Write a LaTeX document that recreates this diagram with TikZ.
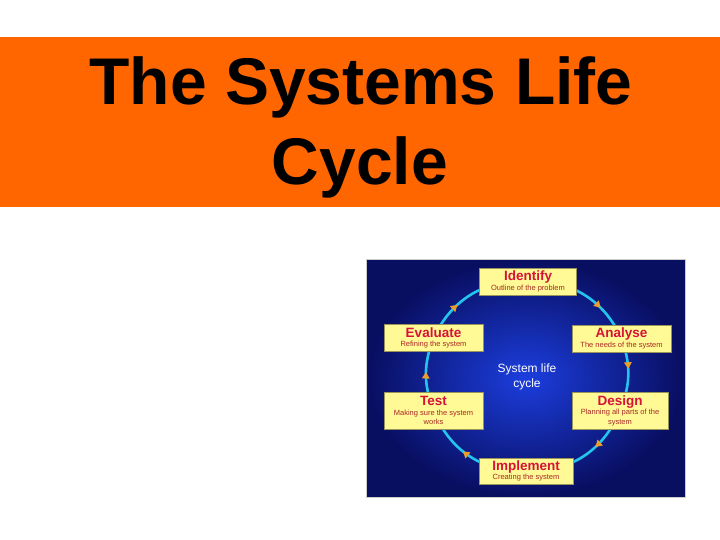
\documentclass[tikz,border=0pt]{standalone}
\usepackage{fontspec}
\setmainfont{Liberation Sans}
\usetikzlibrary{arrows.meta,backgrounds,decorations.markings}
\definecolor{bandorange}{RGB}{255,102,0}
\definecolor{panelblue}{RGB}{28,62,222}
\definecolor{paneldark}{RGB}{8,14,96}
\definecolor{ringcyan}{RGB}{36,196,236}
\definecolor{tipamber}{RGB}{236,156,44}
\definecolor{boxyellow}{RGB}{255,249,150}
\definecolor{headred}{RGB}{214,18,58}
\definecolor{subred}{RGB}{168,40,36}
\tikzset{stage/.style={draw=boxyellow!60!black,fill=boxyellow,minimum width=97pt,
  minimum height=27pt,inner sep=1pt,align=center,text=subred,
  font=\fontsize{7.5}{9.5}\selectfont},
  ring/.style={draw=ringcyan,line width=2.6pt,postaction={decorate}},
  tipat/.style={decoration={markings,mark=at position #1 with
    {\arrow{Triangle[length=6.5pt,width=7.5pt,color=tipamber]}}}},
  headline/.style={anchor=base,inner sep=0pt,font=\fontsize{66}{80}\selectfont\bfseries}}
\newcommand{\stagehead}[1]{{\fontsize{13.5}{15}\selectfont\bfseries\color{headred}#1}}

\begin{document}
\begin{tikzpicture}[x=1pt,y=-1pt]
\useasboundingbox (0,0) rectangle (720,540);
\node[headline] (ttl) at (361,105) {The Systems Life};
\node[headline] (ttl2) at (360,185) {Cycle};
\node[stage] (idf) at (528,281.5) {\stagehead{Identify}\\Outline of the problem};
\node[stage,minimum width=99pt] (evl) at (433.5,338) {\stagehead{Evaluate}\\Refining the system};
\node[stage,minimum width=99pt] (ana) at (621.5,338.5) {\stagehead{Analyse}\\The needs of the system};
\node[stage,minimum width=99pt,minimum height=37pt] (tst) at (433.5,410.5)
  {\stagehead{Test}\\Making sure the system\\works};
\node[stage,minimum width=96pt,minimum height=37pt] (des) at (620,410.5)
  {\stagehead{Design}\\Planning all parts of the\\system};
\node[stage,minimum width=94pt,minimum height=26pt] (imp) at (526,471)
  {\stagehead{Implement}\\Creating the system};
\node[text=white,align=center,font=\fontsize{12}{15}\selectfont] (hub) at (527,377)
  {System life\\cycle};
\begin{scope}[on background layer]
\fill[white] (0,0) rectangle (720,540);
\fill[bandorange] (0,37) rectangle (720,207);
\shade[inner color=panelblue,outer color=paneldark] (366,259) rectangle (685,497);
\draw[gray!40,line width=.8pt] (366,259) rectangle (685,497);
\draw[ring,tipat=.68,bend left=34] (idf.center) to (ana.center);
\draw[ring,tipat=.42,bend left=21] (ana.center) to (des.center);
\draw[ring,tipat=.37,bend left=35] (des.center) to (imp.center);
\draw[ring,tipat=.57,bend left=35] (imp.center) to (tst.center);
\draw[ring,tipat=.53,bend left=21] (tst.center) to (evl.center);
\draw[ring,tipat=.35,bend left=34] (evl.center) to (idf.center);
\end{scope}
\end{tikzpicture}
\end{document}
